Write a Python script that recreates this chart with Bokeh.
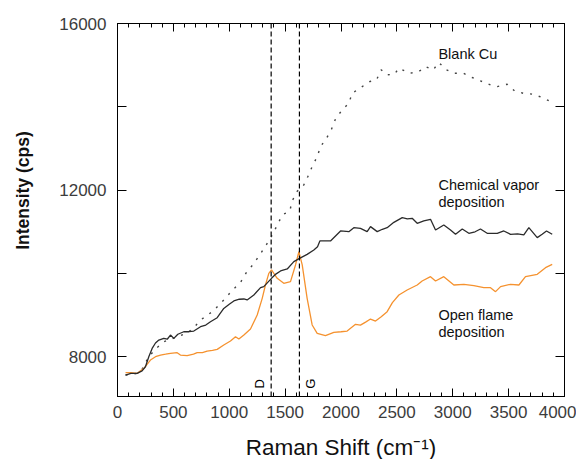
import math
from bokeh.plotting import figure
from bokeh.models import (LinearAxis, SingleIntervalTicker, FixedTicker, Span,
                          Label, Range1d, CustomJSTickFormatter)
from bokeh.embed import file_html
from bokeh.resources import INLINE

# ---- data ----
cvd_x = [72, 120, 176, 220, 250, 280, 310, 340, 370, 414,
         445, 474, 504, 540, 593, 640, 683, 743, 790, 832,
         892, 951, 1000, 1041, 1090, 1131, 1160, 1220, 1280, 1309,
         1378, 1420, 1459, 1519, 1578, 1629, 1697, 1757, 1790, 1811,
         1906, 1996, 2070, 2115, 2174, 2234, 2264, 2324, 2370, 2413,
         2473, 2548, 2593, 2637, 2682, 2741, 2801, 2846, 2920, 2980,
         3025, 3085, 3144, 3200, 3248, 3308, 3398, 3457, 3517, 3580,
         3636, 3681, 3756, 3800, 3839, 3890]
cvd_y = [7560, 7600, 7600, 7660, 7760, 8000, 8200, 8330, 8400, 8440,
         8420, 8520, 8440, 8540, 8600, 8600, 8617, 8720, 8760, 8840,
         8937, 9160, 9260, 9338, 9380, 9386, 9362, 9482, 9658, 9682,
         9882, 9990, 10059, 10107, 10282, 10362, 10458, 10563, 10640, 10779,
         10779, 11019, 11003, 11099, 11083, 11003, 11123, 11003, 11060, 11099,
         11227, 11339, 11307, 11323, 11203, 11259, 11299, 11043, 11163, 11043,
         10939, 11067, 10963, 11000, 11067, 10963, 10963, 11019, 10939, 10950,
         10923, 11099, 10859, 10939, 11019, 10939]

flame_x = [72, 120, 176, 236, 295, 340, 385, 430, 474, 534,
           563, 623, 680, 713, 760, 802, 850, 892, 951, 1011,
           1056, 1086, 1131, 1190, 1250, 1295, 1324, 1354, 1378, 1429,
           1488, 1548, 1593, 1623, 1653, 1697, 1742, 1787, 1861, 1936,
           2000, 2055, 2130, 2174, 2220, 2264, 2309, 2360, 2413, 2460,
           2518, 2592, 2682, 2726, 2801, 2846, 2920, 3010, 3100, 3189,
           3278, 3338, 3383, 3428, 3517, 3592, 3651, 3756, 3830, 3890]
flame_y = [7616, 7620, 7600, 7720, 7920, 8000, 8040, 8060, 8080, 8096,
           8040, 8024, 8060, 8096, 8100, 8136, 8150, 8176, 8280, 8376,
           8480, 8424, 8520, 8664, 9001, 9402, 9722, 10001, 10083, 9882,
           9762, 9802, 10203, 10522, 10203, 9402, 8762, 8560, 8505, 8584,
           8600, 8617, 8777, 8760, 8830, 8905, 8857, 8960, 9081, 9300,
           9482, 9602, 9722, 9818, 9922, 9818, 9922, 9722, 9738, 9706,
           9658, 9658, 9562, 9682, 9738, 9722, 9922, 9978, 10138, 10218]

blank_x = [72, 176, 221, 280, 340, 414, 480, 560, 640, 700,
           743, 800, 856, 951, 1026, 1101, 1154, 1214, 1274, 1327,
           1380, 1429, 1474, 1542, 1563, 1608, 1667, 1703, 1742, 1787,
           1817, 1870, 1915, 1951, 2011, 2070, 2100, 2190, 2258, 2318,
           2360, 2413, 2479, 2518, 2617, 2697, 2756, 2825, 2875, 2944,
           3010, 3093, 3174, 3248, 3338, 3398, 3487, 3553, 3630, 3720,
           3800, 3875, 3890]
blank_y = [7560, 7600, 7704, 8000, 8184, 8360, 8420, 8500, 8600, 8750,
           8881, 8990, 9097, 9362, 9590, 9786, 10026, 10218, 10450, 10667,
           10900, 11155, 11404, 11500, 11740, 11970, 12125, 12324, 12565, 12805,
           13045, 13244, 13461, 13710, 13926, 14085, 14326, 14486, 14607, 14647,
           14887, 14767, 14783, 14927, 14807, 14847, 14967, 14887, 15063, 14887,
           14807, 14807, 14703, 14623, 14527, 14486, 14542, 14383, 14326, 14302,
           14222, 14126, 14085]

band_positions = [1375, 1628]
band_names = ["D", "G"]
y_major_ticks = [8000, 12000, 16000]
y_minor_ticks = [10000, 14000]

FONT = "Liberation Sans"
TICK_COLOR = "#3c3c3c"

p = figure(frame_width=447, frame_height=373,
           x_range=Range1d(0, 4000), y_range=Range1d(7045, 16000),
           output_backend="svg", toolbar_location=None,
           min_border_left=117, min_border_right=12,
           min_border_top=23, min_border_bottom=60)
p.grid.visible = False
p.outline_line_color = "black"
p.outline_line_width = 1
p.background_fill_color = "white"
p.border_fill_color = "white"

xt = SingleIntervalTicker(interval=500, num_minor_ticks=5)
yt = FixedTicker(ticks=y_major_ticks, minor_ticks=y_minor_ticks)

def style_axis(ax, ticker, major_in, minor_in, labels, standoff):
    ax.ticker = ticker
    ax.major_tick_in = major_in
    ax.major_tick_out = 0
    ax.minor_tick_in = minor_in
    ax.minor_tick_out = 0
    ax.axis_line_color = "black"
    ax.major_tick_line_color = "black"
    ax.minor_tick_line_color = "black"
    if labels:
        ax.major_label_text_font = FONT
        ax.major_label_text_font_size = "17px"
        ax.major_label_text_color = TICK_COLOR
        ax.major_label_standoff = standoff
    else:
        ax.formatter = CustomJSTickFormatter(code="return ''")
        ax.major_label_standoff = 0

bottom = p.below[0]
left = p.left[0]
style_axis(bottom, xt, 8, 4, True, 9)
style_axis(left, yt, 9, 9, True, 11)

top = LinearAxis()
style_axis(top, xt, 8, 4, False, 0)
p.add_layout(top, "above")
right = LinearAxis()
style_axis(right, yt, 9, 9, False, 0)
p.add_layout(right, "right")

bottom.axis_label = "Raman Shift (cm\u207b\u00b9)"
bottom.axis_label_text_font = FONT
bottom.axis_label_text_font_size = "22.5px"
bottom.axis_label_text_font_style = "normal"
bottom.axis_label_text_color = "#111111"
bottom.axis_label_standoff = 14

# y-axis title; leading no-break spaces lift it above the centre as in the reference
left.axis_label = "\u00a0" * 8 + "Intensity (cps)"
left.axis_label_text_font = FONT
left.axis_label_text_font_size = "17.5px"
left.axis_label_text_font_style = "bold"
left.axis_label_text_color = "#111111"
left.axis_label_standoff = 23

# band lines
for xpos in band_positions:
    p.add_layout(Span(location=xpos, dimension="height", line_color="black",
                      line_width=1.2, line_dash="5 3"))

# curves
p.line(blank_x, blank_y, line_color="#444444", line_width=1.4, line_dash="2 7")
p.line(flame_x, flame_y, line_color="#f5922f", line_width=1.3)
p.line(cvd_x, cvd_y, line_color="#2b2b2b", line_width=1.3)

# band letters
p.add_layout(Label(x=band_positions[0], y=7350, x_offset=-12, text=band_names[0],
                   angle=math.pi / 2, text_align="center", text_baseline="middle",
                   text_font=FONT, text_font_size="13px", text_color="black"))
p.add_layout(Label(x=band_positions[1], y=7350, x_offset=11, text=band_names[1],
                   angle=math.pi / 2, text_align="center", text_baseline="middle",
                   text_font=FONT, text_font_size="13px", text_color="black"))

# annotations
ann = [("Blank Cu", 15279), ("Chemical vapor", 12132), ("deposition", 11724),
       ("Open flame", 9009), ("deposition", 8601)]
for t, yv in ann:
    p.add_layout(Label(x=2872, y=yv, text=t, text_align="left", text_baseline="middle",
                       text_font=FONT, text_font_size="14.5px", text_color="#111111"))

open("out.html", "w").write(file_html(p, INLINE))
